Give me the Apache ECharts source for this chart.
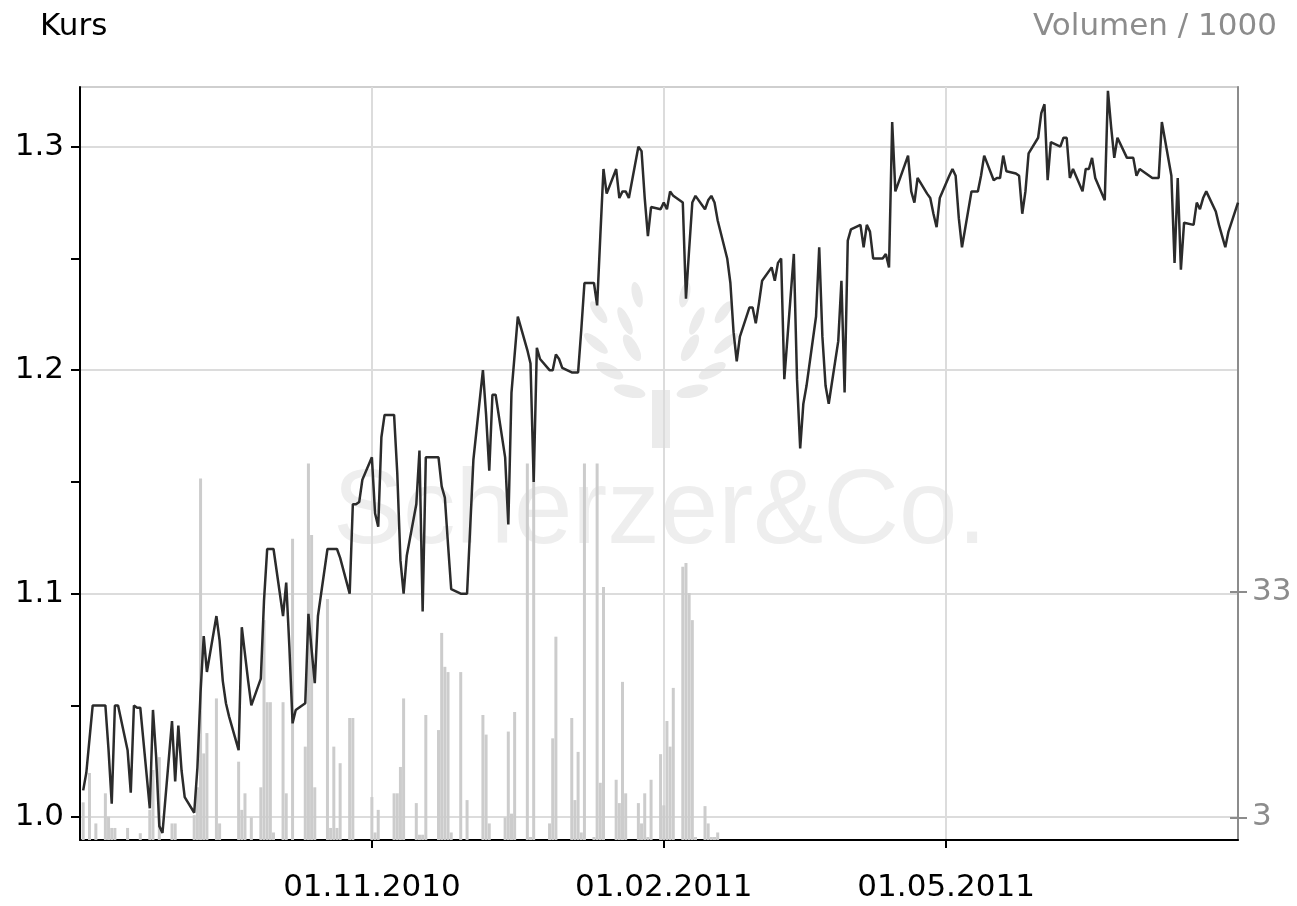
<!DOCTYPE html>
<html>
<head>
<meta charset="utf-8">
<title>Kurs</title>
<script src="https://cdn.jsdelivr.net/npm/echarts@6/dist/echarts.min.js"></script>
<style>
html, body { margin: 0; padding: 0; background: #fff; }
#main { width: 1297px; height: 906px; }
</style>
</head>
<body>
<div id="main"></div>
<script>
// Handelstage (Mo-Fr) vom 02.08.2010 bis 01.08.2011
var firstDay = '2010-08-02';
var lastDay = '2011-08-01';
var axisStart = '2010-08-01';
var axisEnd = '2011-08-01';

// Kurs, eine Zeile pro Woche
var kurs = [
  1.012, 1.020, 1.035, 1.050, 1.050,
  1.050, 1.030, 1.006, 1.050, 1.050,
  1.030, 1.011, 1.050, 1.049, 1.049,
  1.004, 1.048, 1.027, 0.996, 0.993,
  1.043, 1.016, 1.041, 1.021, 1.009,
  1.002, 1.022, 1.056, 1.081, 1.065,
  1.090, 1.079, 1.061, 1.051, 1.045,
  1.030, 1.085, 1.073, 1.061, 1.050,
  1.062, 1.097, 1.120, 1.120, 1.120,
  1.090, 1.105, 1.076, 1.042, 1.048,
  1.051, 1.091, 1.075, 1.060, 1.090,
  1.120, 1.120, 1.120, 1.120, 1.116,
  1.100, 1.140, 1.140, 1.141, 1.151,
  1.161, 1.136, 1.130, 1.170, 1.180,
  1.180, 1.154, 1.115, 1.100, 1.117,
  1.140, 1.164, 1.092, 1.161, 1.161,
  1.161, 1.148, 1.143, 1.122, 1.102,
  1.100, 1.100, 1.100, 1.130, 1.160,
  1.200, 1.180, 1.155, 1.189, 1.189,
  1.161, 1.131, 1.190, 1.207, 1.224,
  1.209, 1.203, 1.150, 1.210, 1.205,
  1.200, 1.200, 1.207, 1.205, 1.201,
  1.199, 1.199, 1.199, 1.218, 1.239,
  1.239, 1.229, 1.260, 1.290, 1.279,
  1.290, 1.277, 1.280, 1.280, 1.277,
  1.300, 1.298, 1.277, 1.260, 1.273,
  1.272, 1.275, 1.272, 1.280, 1.278,
  1.275, 1.232, 1.254, 1.275, 1.278,
  1.272, 1.276, 1.278, 1.275, 1.267,
  1.250, 1.239, 1.217, 1.204, 1.215,
  1.228, 1.228, 1.221, 1.230, 1.240,
  1.246, 1.240, 1.248, 1.250, 1.196,
  1.252, 1.196, 1.165, 1.185, 1.193,
  1.224, 1.255, 1.215, 1.193, 1.185,
  1.213, 1.240, 1.190, 1.258, 1.263,
  1.265, 1.255, 1.265, 1.262, 1.250,
  1.250, 1.252, 1.246, 1.311, 1.280,
  1.292, 1.296, 1.280, 1.275, 1.286,
  1.279, 1.277, 1.270, 1.264, 1.277,
  1.287, 1.290, 1.287, 1.268, 1.255,
  1.280, 1.280, 1.280, 1.287, 1.296,
  1.285, 1.286, 1.286, 1.296, 1.289,
  1.288, 1.287, 1.270, 1.280, 1.297,
  1.304, 1.315, 1.319, 1.285, 1.302,
  1.300, 1.304, 1.304, 1.286, 1.290,
  1.280, 1.290, 1.290, 1.295, 1.286,
  1.276, 1.325, 1.309, 1.295, 1.304,
  1.295, 1.295, 1.295, 1.287, 1.290,
  1.287, 1.286, 1.286, 1.286, 1.311,
  1.287, 1.248, 1.286, 1.245, 1.266,
  1.265, 1.275, 1.272, 1.277, 1.280,
  1.271, 1.265, 1.260, 1.255, 1.262,
  1.275
];

// Volumen / 1000, danach keine Umsaetze mehr
var volumen = [
  5, 0, 8.9, 0, 2.2,
  6.2, 3.1, 1.6, 1.6, 0,
  1.6, 0, 0, 0, 0.9,
  4, 9.3, 0, 11, 0,
  2.2, 2.2, 0, 0, 0,
  3.3, 7, 48, 11.5, 14.2,
  18.8, 2.2, 0, 0, 0,
  10.4, 4, 6.2, 0, 3,
  7, 29.2, 18.3, 18.3, 1,
  18.3, 6.2, 0, 40, 0,
  12.4, 50, 40.5, 7, 0,
  32, 1.6, 12.4, 1.6, 10.2,
  16.2, 16.2, 0, 0, 0,
  5.7, 1, 4, 0, 0,
  6.2, 6.2, 9.7, 18.8, 0,
  4.9, 0.7, 0.7, 16.6, 0,
  14.6, 27.5, 23, 22.3, 1,
  22.3, 0, 5.3, 0, 0,
  16.6, 14, 2.2, 0, 0,
  3, 14.4, 3.5, 17, 0,
  50, 0.4, 50, 0, 0,
  2.2, 13.5, 27, 0, 0,
  16.2, 5.3, 11.7, 1, 50,
  0.4, 50, 7.6, 33.6, 0,
  8, 4.9, 21, 6.2, 0,
  4.9, 2.2, 6.2, 0.4, 8,
  11.4, 4.6, 15.8, 12.4, 20.2,
  36.3, 36.8, 32.8, 29.2, 0.4,
  4.5, 2.2, 0.4, 0.4, 1
];

var dateTicks = ['2010-11-01', '2011-02-01', '2011-05-01'];
var kursLabels = [1.0, 1.1, 1.2, 1.3];
var kursTicks = [1.0, 1.05, 1.1, 1.15, 1.2, 1.25, 1.3];
var volLabels = [3, 33];

function toTime(s) {
  var p = s.split('-');
  return Date.UTC(+p[0], +p[1] - 1, +p[2]);
}
function pad(n) { return n < 10 ? '0' + n : '' + n; }
function fmtDate(v) {
  var d = new Date(v);
  return pad(d.getUTCDate()) + '.' + pad(d.getUTCMonth() + 1) + '.' + d.getUTCFullYear();
}

// Liste der Handelstage
var days = [];
for (var t = toTime(firstDay); t <= toTime(lastDay); t += 86400000) {
  var wd = new Date(t).getUTCDay();
  if (wd !== 0 && wd !== 6) days.push(t);
}

var kursData = days.map(function (d, i) { return [d, kurs[i]]; });
var volData = volumen.map(function (v, i) { return [days[i], v]; });
var tickTimes = dateTicks.map(toTime);

// Wasserzeichen: Baum aus Blaettern
var leaves = [];
var rings = [[32, [78], 16, 6], [58, [62, 30], 15, 6], [85, [50, 25], 15, 5], [106, [36, 13], 13, 5]];
rings.forEach(function (r) {
  r[1].forEach(function (a) {
    [-1, 1].forEach(function (s) {
      var rad = s * a * Math.PI / 180;
      leaves.push({
        type: 'ellipse', silent: true, z: -1,
        x: 661 + r[0] * Math.sin(rad), y: 398 - r[0] * Math.cos(rad),
        rotation: -rad,
        shape: { cx: 0, cy: 0, rx: r[3], ry: r[2] },
        style: { fill: '#ebebeb' }
      });
    });
  });
});

var myChart = echarts.init(document.getElementById('main'));
var option = {
  animation: false,
  backgroundColor: '#fff',
  textStyle: { fontFamily: 'DejaVu Sans' },
  graphic: [
    { type: 'text', left: 40, top: 11, style: { text: 'Kurs', fill: '#000', font: '31px "DejaVu Sans"' } },
    { type: 'text', right: 20, top: 11, style: { text: 'Volumen / 1000', fill: '#8c8c8c', font: '31px "DejaVu Sans"' } },
    { type: 'text', silent: true, z: -1, left: 333, top: 462,
      style: { text: 'Scherzer&Co.', fill: '#eeeeee', font: '105px "Liberation Sans"' } },
    { type: 'rect', silent: true, z: -1, shape: { x: 652, y: 390, width: 18, height: 58 }, style: { fill: '#ebebeb' } }
  ].concat(leaves),
  grid: {
    left: 80, right: 59, top: 87, bottom: 66,
    show: true, borderColor: '#cfcfcf', borderWidth: 2
  },
  xAxis: {
    type: 'value',
    min: toTime(axisStart),
    max: toTime(axisEnd),
    axisLine: { show: true, lineStyle: { color: '#000', width: 2 } },
    axisTick: { show: true, customValues: tickTimes, length: 8, lineStyle: { color: '#000', width: 2 } },
    axisLabel: { customValues: tickTimes, formatter: fmtDate, color: '#000', fontSize: 31, margin: 32 },
    splitLine: { show: true, lineStyle: { color: '#dcdcdc', width: 2 } }
  },
  yAxis: [
    {
      type: 'value', position: 'left',
      min: 0.9898, max: 1.3267,
      axisLine: { show: true, lineStyle: { color: '#000', width: 2 } },
      axisTick: { show: true, customValues: kursTicks, length: 9, lineStyle: { color: '#000', width: 2 } },
      axisLabel: {
        customValues: kursLabels, color: '#000', fontSize: 31, margin: 16,
        formatter: function (v) { return v.toFixed(1); }
      },
      splitLine: { show: false }
    },
    {
      type: 'value', position: 'right',
      min: 0, max: 100,
      axisLine: { show: true, lineStyle: { color: '#8c8c8c', width: 2 } },
      axisTick: { show: true, customValues: volLabels, length: 9, lineStyle: { color: '#8c8c8c', width: 2 } },
      axisLabel: { customValues: volLabels, color: '#8c8c8c', fontSize: 31, margin: 14 },
      splitLine: { show: false }
    },
    {
      // nur die waagrechten Gitterlinien
      type: 'value', position: 'left',
      min: 0.9898, max: 1.3267,
      axisLine: { show: false },
      axisTick: { show: false, customValues: kursLabels },
      axisLabel: { show: false },
      splitLine: { show: true, lineStyle: { color: '#dcdcdc', width: 2 } }
    },
    {
      // innerer Teil der rechten Striche
      type: 'value', position: 'right',
      min: 0, max: 100,
      axisLine: { show: false },
      axisTick: { show: true, inside: true, customValues: volLabels, length: 8, lineStyle: { color: '#8c8c8c', width: 2 } },
      axisLabel: { show: false },
      splitLine: { show: false }
    }
  ],
  series: [
    {
      name: 'Volumen', type: 'bar', yAxisIndex: 1,
      data: volData, barWidth: 3,
      itemStyle: { color: '#cccccc' }
    },
    {
      name: 'Kurs', type: 'line', yAxisIndex: 0,
      data: kursData, showSymbol: false,
      lineStyle: { color: '#2b2b2b', width: 2.5 }
    }
  ]
};
myChart.setOption(option);
</script>
</body>
</html>
